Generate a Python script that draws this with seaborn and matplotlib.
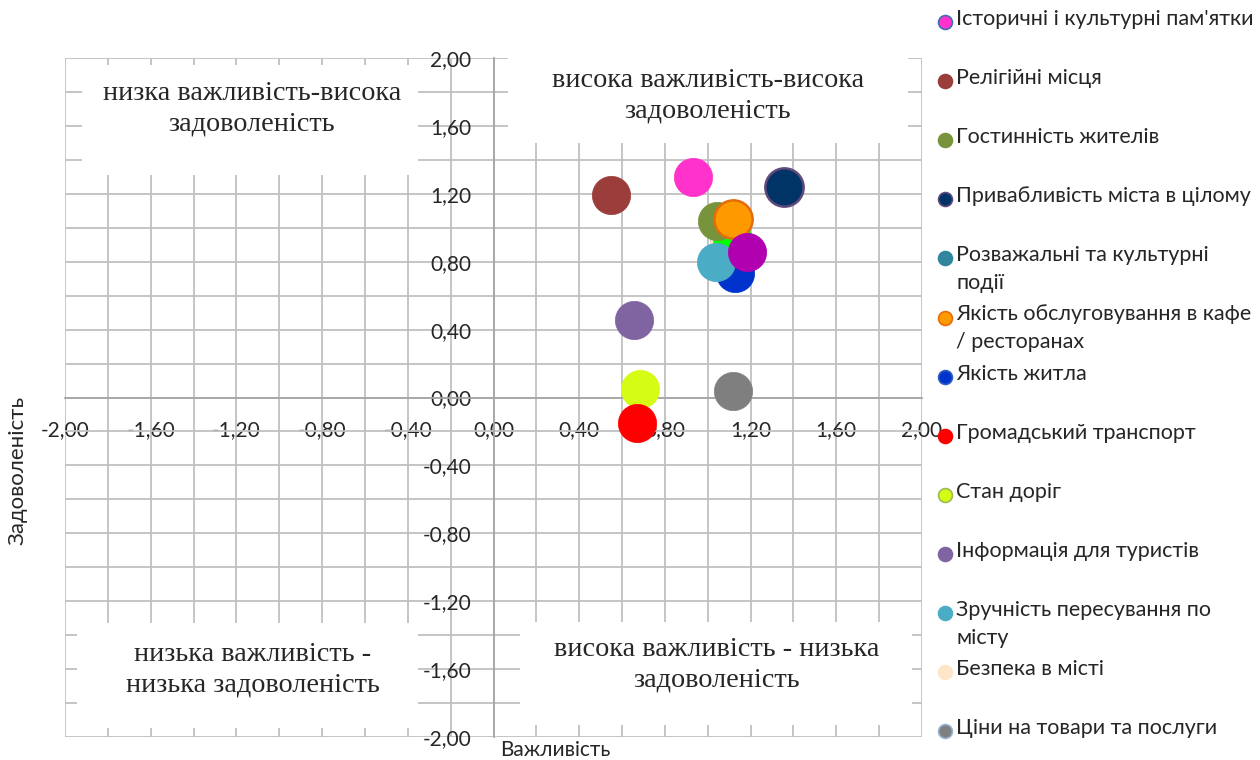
import matplotlib
matplotlib.use('Agg')
import matplotlib.pyplot as plt
from matplotlib.lines import Line2D
from matplotlib.patches import Rectangle
import seaborn as sns
import pandas as pd

# legend entries (in legend order)
names = ["Історичні і культурні пам'ятки", 'Релігійні місця', 'Гостинність жителів',
         'Привабливість міста в цілому', 'Розважальні та культурні\nподії',
         'Якість обслуговування в кафе\n/ ресторанах', 'Якість житла',
         'Громадський транспорт', 'Стан доріг', 'Інформація для туристів',
         'Зручність пересування по\nмісту', 'Безпека в місті', 'Ціни на товари та послуги']
importance = [0.93, 0.55, 1.045, 1.355, 1.10, 1.12, 1.125, 0.67, 0.685, 0.655, 1.04, 1.10, 1.12]
satisfaction = [1.30, 1.195, 1.04, 1.24, 0.95, 1.05, 0.735, -0.15, 0.05, 0.455, 0.80, 0.90, 0.04]
colors = ['#ff33cc', '#9b3d3a', '#77933c', '#003366', '#31859c', '#ff9900', '#0033cc',
          '#ff0000', '#d4fc14', '#8064a2', '#4bacc6', '#ffe6c8', '#7f7f7f']
edges = ['#3f6fb5', '#9b3d3a', '#77933c', '#604a7b', '#31859c', '#e46c0a', '#2f5fc0',
         '#ff0000', '#9bbb59', '#8064a2', '#4bacc6', '#ffe6c8', '#95b3d7']

# two more series whose legend entries are cut off in the original
extra_importance = [1.115, 1.185]
extra_satisfaction = [0.94, 0.855]
extra_colors = ['#00ff00', '#b000b0']

ticks = [-2.0, -1.6, -1.2, -0.8, -0.4, 0.0, 0.4, 0.8, 1.2, 1.6, 2.0]
tick_labels = ['-2,00', '-1,60', '-1,20', '-0,80', '-0,40', '0,00', '0,40', '0,80', '1,20', '1,60', '2,00']
minor_ticks = [-1.8, -1.4, -1.0, -0.6, -0.2, 0.2, 0.6, 1.0, 1.4, 1.8]

quadrants = ['низка важливість-висока\nзадоволеність', 'висока важливість-висока\nзадоволеність',
             'низька важливість -\nнизька задоволеність', 'висока важливість - низька\nзадоволеність']

df = pd.DataFrame({'name': names + ['', ''],
                   'x': importance + extra_importance,
                   'y': satisfaction + extra_satisfaction,
                   'color': colors + extra_colors,
                   'edge': edges + extra_colors})
# drawing order, bottom to top
draw_order = [0, 1, 3, 9, 8, 7, 12, 4, 11, 13, 6, 2, 5, 10, 14]

sns.set_style('white')
plt.rcParams['font.family'] = ['Lato', 'DejaVu Sans']

fig = plt.figure(figsize=(12.6, 7.6), dpi=100)
ax = fig.add_axes([65 / 1260, 1 - 737 / 760, 857 / 1260, 679 / 760])

for i in draw_order:
    r = df.iloc[[i]]
    ec = r['edge'].iloc[0] if i in (3, 5) else r['color'].iloc[0]
    sns.scatterplot(data=r, x='x', y='y', ax=ax, color=r['color'].iloc[0], s=760,
                    edgecolor=ec, linewidth=1.8 if i in (3, 5) else 0.5,
                    legend=False, zorder=5, clip_on=False)

ax.set_xlim(-2, 2)
ax.set_ylim(-2, 2)
ax.set_xticks(ticks)
ax.set_xticklabels(tick_labels)
ax.set_yticks(ticks)
ax.set_yticklabels(tick_labels)
ax.set_xticks(minor_ticks, minor=True)
ax.set_yticks(minor_ticks, minor=True)
ax.grid(which='both', color='#c0c0c0', linewidth=1.3, zorder=0)
ax.set_axisbelow(True)
ax.spines['left'].set_position(('data', 0))
ax.spines['bottom'].set_position(('data', 0))
for s in ['left', 'bottom']:
    ax.spines[s].set_color('#a6a6a6')
    ax.spines[s].set_linewidth(1.3)
    ax.spines[s].set_zorder(1)
for s in ['top', 'right']:
    ax.spines[s].set_visible(False)
ax.tick_params(which='major', direction='inout', length=8, width=1.3, color='#a6a6a6',
               labelsize=15, pad=12)
ax.tick_params(which='minor', length=0)
ax.set_xlabel('')
ax.set_ylabel('')

# quadrant text boxes (white boxes that hide the grid)
boxes = [(0.020, 0.828, 0.392, 0.162), (0.517, 0.875, 0.467, 0.137),
         (0.014, 0.013, 0.398, 0.155), (0.531, 0.018, 0.457, 0.152)]
centers = [(0.218, 0.925), (0.750, 0.944), (0.219, 0.099), (0.760, 0.106)]
for (bx, by, bw, bh), (cx, cy), label in zip(boxes, centers, quadrants):
    ax.add_patch(Rectangle((bx, by), bw, bh, transform=ax.transAxes, facecolor='white',
                           edgecolor='none', zorder=3, clip_on=False))
    ax.text(cx, cy, label, transform=ax.transAxes, ha='center', va='center',
            family='Liberation Serif', fontsize=20.3, linespacing=1.3, zorder=4)

fig.text(18 / 1260, 1 - 470 / 760, 'Задоволеність', rotation=90, ha='center', va='center', fontsize=16)
fig.text(500 / 1260, 1 - 750 / 760, 'Важливість', ha='left', va='center', fontsize=15)

# legend, one slot per series like in the original
for k, name in enumerate(names):
    yc = 1 - (22 + k * 59.1) / 760
    fig.add_artist(Line2D([945 / 1260], [yc], marker='o', markersize=10, color=colors[k],
                          markeredgecolor=edges[k], markeredgewidth=1.2, linestyle='none',
                          transform=fig.transFigure))
    fig.text(956 / 1260, yc + 13 / 760, name, ha='left', va='top', fontsize=15.5,
             linespacing=1.5)

plt.savefig('out.png', dpi=100)
